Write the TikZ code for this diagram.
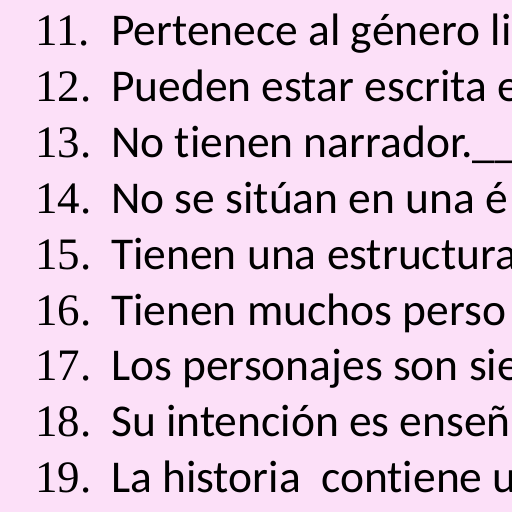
\documentclass[tikz,border=0pt]{standalone}
\usepackage{fontspec}
\setmainfont{Liberation Serif}
\newfontfamily\bodyfont{Carlito}[Ligatures=NoCommon]
\definecolor{bgpink}{RGB}{252,224,248}
\newcommand{\numsize}{\fontsize{45bp}{50bp}\selectfont}
\newcommand{\txtsize}{\fontsize{45.5bp}{50bp}\selectfont}
\tikzset{
  num/.style={anchor=base west, inner sep=0pt},
  txt/.style={anchor=base west, inner sep=0pt}
}
\begin{document}
\begin{tikzpicture}[x=1bp,y=-1bp]
\useasboundingbox (0,0) rectangle (512,512);
\fill[bgpink] (0,0) rectangle (512,512);
\clip (0,0) rectangle (512,512);
\node[num] (n11) at (35,45.5) {\rmfamily\numsize 11.};
\node[txt] (t11) at (111,45.5) {\bodyfont\txtsize Pertenece al género li};
\node[num] (n12) at (35,101.4) {\rmfamily\numsize 12.};
\node[txt] (t12) at (111,101.4) {\bodyfont\txtsize Pueden estar escrita e};
\node[num] (n13) at (35,157.3) {\rmfamily\numsize 13.};
\node[txt] (t13) at (111,157.3) {\bodyfont\txtsize No tienen narrador.\_\_\_\_};
\node[num] (n14) at (35,213.2) {\rmfamily\numsize 14.};
\node[txt] (t14) at (111,213.2) {\bodyfont\txtsize No se sitúan en una é};
\node[num] (n15) at (35,269.1) {\rmfamily\numsize 15.};
\node[txt] (t15) at (111,269.1) {\bodyfont\txtsize Tienen una estructura};
\node[num] (n16) at (35,325.0) {\rmfamily\numsize 16.};
\node[txt] (t16) at (111,325.0) {\bodyfont\txtsize Tienen muchos perso};
\node[num] (n17) at (35,380.9) {\rmfamily\numsize 17.};
\node[txt] (t17) at (111,380.9) {\bodyfont\txtsize Los personajes son sie};
\node[num] (n18) at (35,436.8) {\rmfamily\numsize 18.};
\node[txt] (t18) at (111,436.8) {\bodyfont\txtsize Su intención es enseñ};
\node[num] (n19) at (35,492.7) {\rmfamily\numsize 19.};
\node[txt] (t19) at (111,492.7) {\bodyfont\txtsize La historia\ \ contiene u};
\end{tikzpicture}
\end{document}
